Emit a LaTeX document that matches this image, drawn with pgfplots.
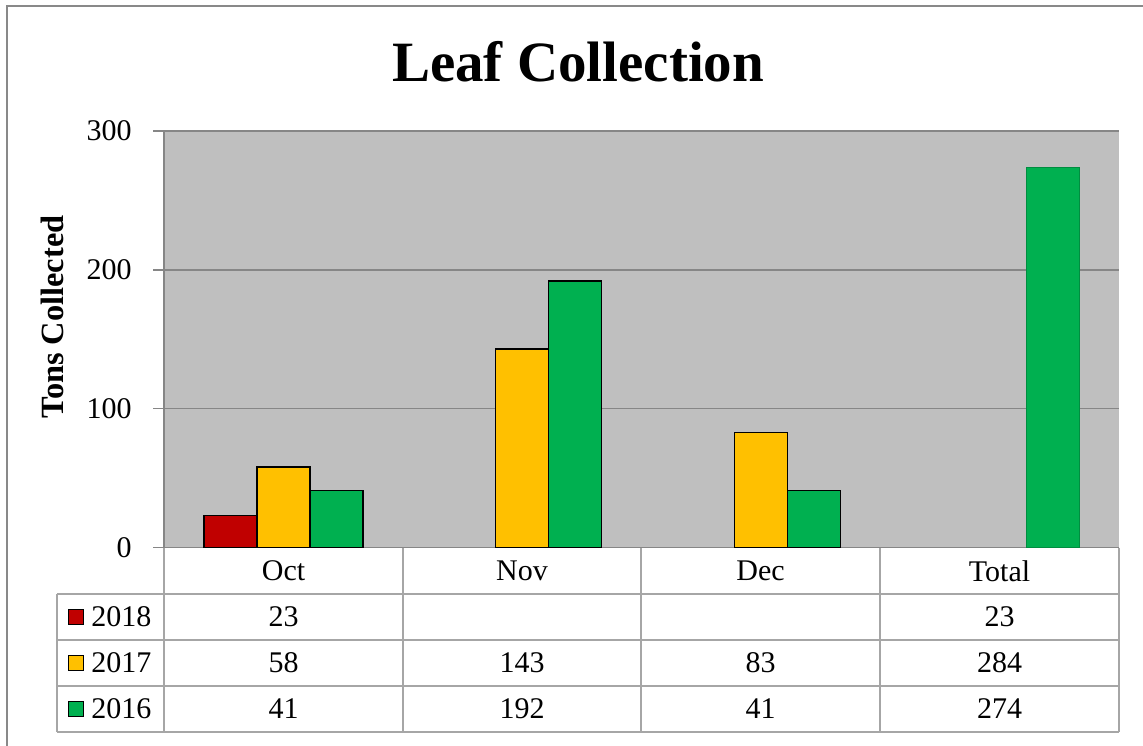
\documentclass[border=0pt]{standalone}
\usepackage{pgfplots}
\pgfplotsset{compat=1.18}
\usepackage{fontspec}
\setmainfont{Liberation Serif}
\definecolor{c18}{HTML}{C00000}
\definecolor{c17}{HTML}{FFC000}
\definecolor{c16}{HTML}{00B050}
\definecolor{plotbg}{HTML}{BFBFBF}
\definecolor{gridc}{HTML}{868686}
\definecolor{tabc}{HTML}{A6A6A6}
\definecolor{framec}{HTML}{898989}
\newcommand{\tfont}{\fontsize{15}{17}\selectfont}
\begin{document}
\begin{tikzpicture}
\begin{scope}[x=0.5pt,y=-0.5pt]
\useasboundingbox (0,0) rectangle (1143,745);
\fill[white] (0,0) rectangle (1143,745);
\draw[framec, line width=1pt] (6.5,746) -- (6.5,6) -- (1144,6);
\node[font=\bfseries\fontsize{28.5}{32}\selectfont] at (578,62) {Leaf Collection};
\node[rotate=90, font=\bfseries\fontsize{16.2}{18}\selectfont] at (52,317) {Tons Collected};
\end{scope}
\begin{axis}[
  at={(82pt,-273.85pt)}, anchor=south west,
  scale only axis, width=477.5pt, height=208.35pt,
  xmin=-0.5, xmax=3.5, ymin=0, ymax=300,
  ytick={0,100,200,300}, xtick=\empty,
  axis background/.style={fill=plotbg},
  ymajorgrids, grid style={gridc, line width=0.6pt},
  axis lines*=left, axis line style={gridc, line width=0.6pt},
  tick align=outside, major tick length=5.5pt,
  tick style={gridc, line width=0.6pt},
  /pgf/number format/assume math mode=true,
  yticklabel style={font=\tfont, anchor=east, inner sep=0pt, xshift=-10.5pt},
  clip=false,
]
\addplot[ybar, bar width=0.2222, bar shift=-0.2222, fill=c18, draw=black, line width=0.7pt]
  coordinates {(0,23)};
\addplot[ybar, bar width=0.2222, bar shift=0, fill=c17, draw=black, line width=0.7pt]
  coordinates {(0,58) (1,143) (2,83)};
\addplot[ybar, bar width=0.2222, bar shift=0.2222, fill=c16, draw=black, line width=0.7pt]
  coordinates {(0,41) (1,192) (2,41)};
\addplot[ybar, bar width=0.2222, bar shift=0.2222, fill=c16, draw=c16!80!black, line width=0.5pt]
  coordinates {(3,274)};
\end{axis}
\begin{scope}[x=0.5pt,y=-0.5pt]
\draw[tabc, line width=0.9pt]
  (164,547.7) -- (164,732)
  (403,547.7) -- (403,732)
  (641,547.7) -- (641,732)
  (880,547.7) -- (880,732)
  (1119,547.7) -- (1119,732)
  (57,593.7) -- (57,732)
  (57,593.7) -- (1119,593.7)
  (57,640.3) -- (1119,640.3)
  (57,686) -- (1119,686)
  (57,732) -- (1119,732);
\foreach \x/\t in {283.5/Oct, 522/Nov, 760.5/Dec, 999.5/Total}
  \node[font=\tfont] at (\x,571) {\t};
% legend keys
\foreach \y/\c/\t in {617/c18/2018, 663/c17/2017, 709/c16/2016}{
  \filldraw[fill=\c, draw=black, line width=0.5pt] (68,\y-7.5) rectangle (83,\y+7.5);
  \node[font=\tfont, anchor=west, inner sep=0pt] at (91,\y) {\t};
}
% table values
\foreach \x/\t in {283.5/23, 999.5/23}
  \node[font=\tfont] at (\x,617) {\t};
\foreach \x/\t in {283.5/58, 522/143, 760.5/83, 999.5/284}
  \node[font=\tfont] at (\x,663) {\t};
\foreach \x/\t in {283.5/41, 522/192, 760.5/41, 999.5/274}
  \node[font=\tfont] at (\x,709) {\t};
\end{scope}
\end{tikzpicture}
\end{document}
